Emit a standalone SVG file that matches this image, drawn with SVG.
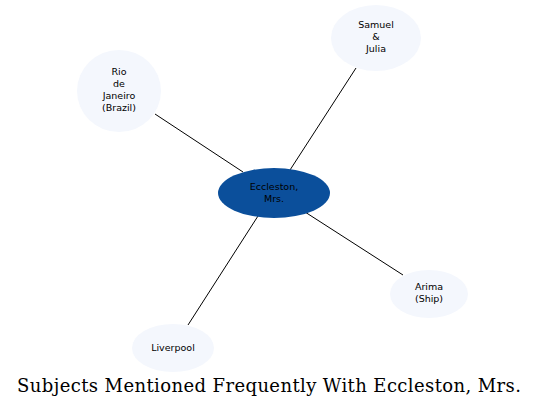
<svg xmlns="http://www.w3.org/2000/svg" width="545" height="409" viewBox="0 0 545 409">
<style>
.n{fill:#f4f7fd;stroke:none}
.c{fill:#0b4f9b;stroke:none}
.t{font-family:"DejaVu Sans",sans-serif;font-size:9.5px;fill:#000;text-anchor:middle}
.e{stroke:#000;stroke-width:1;fill:none}
.title{font-family:"DejaVu Serif",serif;font-size:18px;fill:#000}
</style>
<rect width="545" height="409" fill="#fff"/>
<g id="edges">
<line class="e" x1="290" y1="170" x2="356" y2="68"/>
<line class="e" x1="243" y1="172" x2="155" y2="114"/>
<line class="e" x1="305" y1="212" x2="403" y2="275"/>
<line class="e" x1="258" y1="216" x2="188" y2="325"/>
</g>
<g id="samuel">
<ellipse class="n" cx="376" cy="38" rx="45" ry="33"/>
<text class="t" x="376" y="28">Samuel</text>
<text class="t" x="376" y="40">&amp;</text>
<text class="t" x="376" y="52">Julia</text>
</g>
<g id="rio">
<ellipse class="n" cx="119" cy="91" rx="42" ry="41"/>
<text class="t" x="119" y="75">Rio</text>
<text class="t" x="119" y="87">de</text>
<text class="t" x="119" y="99">Janeiro</text>
<text class="t" x="119" y="111">(Brazil)</text>
</g>
<g id="eccleston">
<ellipse class="c" cx="274" cy="193" rx="56" ry="25"/>
<text class="t" x="274" y="190">Eccleston,</text>
<text class="t" x="274" y="202">Mrs.</text>
</g>
<g id="arima">
<ellipse class="n" cx="429" cy="294" rx="39" ry="24"/>
<text class="t" x="429" y="290">Arima</text>
<text class="t" x="429" y="302">(Ship)</text>
</g>
<g id="liverpool">
<ellipse class="n" cx="173" cy="348" rx="41" ry="24"/>
<text class="t" x="173" y="351">Liverpool</text>
</g>
<text class="title" x="17" y="392" textLength="504" lengthAdjust="spacing">Subjects Mentioned Frequently With Eccleston, Mrs.</text>
</svg>
